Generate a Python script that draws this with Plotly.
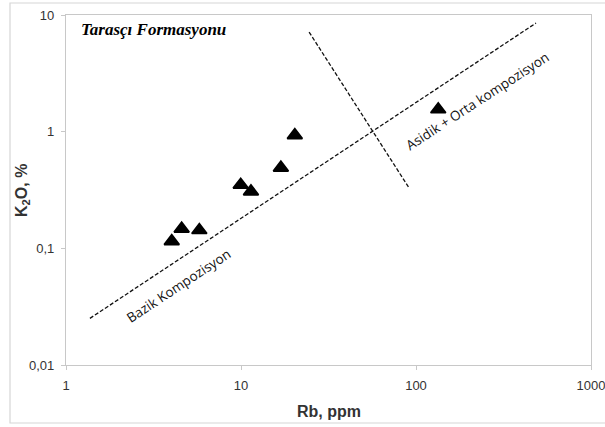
import plotly.graph_objects as go

# Data (Rb ppm vs K2O %)
rb_values = [4.02, 4.58, 5.78, 9.96, 11.4, 16.9, 20.3, 134]
k2o_values = [0.115, 0.147, 0.143, 0.35, 0.307, 0.49, 0.93, 1.55]

# Boundary lines
boundary1_x = [1.37, 485]
boundary1_y = [0.0251, 8.53]
boundary2_x = [24.5, 91.2]
boundary2_y = [7.14, 0.33]

x_tickvals = [1, 10, 100, 1000]
x_ticktext = ["1", "10", "100", "1000"]
y_tickvals = [0.01, 0.1, 1, 10]
y_ticktext = ["0,01", "0,1", "1", "10"]

fig = go.Figure()

dash_style = "4px,2px"
fig.add_trace(go.Scatter(x=boundary1_x, y=boundary1_y, mode="lines",
                         line=dict(color="#111111", width=1.3, dash=dash_style),
                         hoverinfo="skip", showlegend=False))
fig.add_trace(go.Scatter(x=boundary2_x, y=boundary2_y, mode="lines",
                         line=dict(color="#111111", width=1.3, dash=dash_style),
                         hoverinfo="skip", showlegend=False))
fig.add_trace(go.Scatter(x=rb_values, y=k2o_values, mode="markers",
                         marker=dict(symbol="triangle-up", size=13, color="black",
                                     line=dict(color="black", width=1.8)),
                         showlegend=False))

axis_common = dict(
    type="log",
    automargin=False,
    showgrid=False,
    zeroline=False,
    showline=True,
    linecolor="#c8c8c8",
    linewidth=1.2,
    mirror=True,
    ticks="outside",
    ticklen=4,
    tickcolor="#c8c8c8",
    ticklabeloverflow="allow",
    tickfont=dict(family="Liberation Sans", size=13, color="#333333"),
)

fig.update_xaxes(range=[0, 3], tickvals=x_tickvals, ticktext=x_ticktext,
                 ticklabelstandoff=4, **axis_common)
fig.update_yaxes(range=[-2, 1], tickvals=y_tickvals, ticktext=y_ticktext,
                 ticklabelstandoff=4, **axis_common)

W, H = 605, 427
ml, mt, mr, mb = 66, 15, 14, 62
pw, ph = W - ml - mr, H - mt - mb


def px_x(p):
    return (p - ml) / pw


def px_y(p):
    return (H - mb - p) / ph


fig.update_layout(
    width=W, height=H,
    margin=dict(l=ml, r=mr, t=mt, b=mb, autoexpand=False),
    paper_bgcolor="white",
    plot_bgcolor="white",
    showlegend=False,
    shapes=[dict(type="rect", xref="paper", yref="paper",
                 x0=px_x(10), x1=1.2, y0=px_y(423), y1=px_y(3),
                 line=dict(color="#d6d6d6", width=1.2), layer="below")],
    annotations=[
        dict(text="<b><i>Tarasçı Formasyonu</i></b>", xref="paper", yref="paper",
             x=px_x(79), y=px_y(30), xanchor="left", yanchor="middle", showarrow=False,
             font=dict(family="Liberation Serif", size=17, color="black")),
        dict(text="<b>K<sub>2</sub>O, %</b>", xref="paper", yref="paper",
             x=px_x(22), y=px_y(191), xanchor="center", yanchor="middle",
             textangle=-90, showarrow=False,
             font=dict(family="Liberation Sans", size=16, color="#333333")),
        dict(text="<b>Rb, ppm</b>", xref="paper", yref="paper",
             x=0.5, y=px_y(411), xanchor="center", yanchor="middle",
             showarrow=False,
             font=dict(family="Liberation Sans", size=16, color="#333333")),
        dict(text="Bazik Kompozisyon", x=0.640, y=-1.322, xref="x", yref="y",
             xanchor="center", yanchor="middle", textangle=-33.5, showarrow=False,
             font=dict(family="Open Sans", size=13.5, color="#111111")),
        dict(text="Asidik + Orta kompozisyon", x=2.351, y=0.261, xref="x", yref="y",
             xanchor="center", yanchor="middle", textangle=-33, showarrow=False,
             font=dict(family="Open Sans", size=13.5, color="#111111")),
    ],
)

# remove the default 8px page margin so the figure fills the window exactly
fig.write_html("out.html", config={"displayModeBar": False},
               post_script="document.body.style.margin='0';")
